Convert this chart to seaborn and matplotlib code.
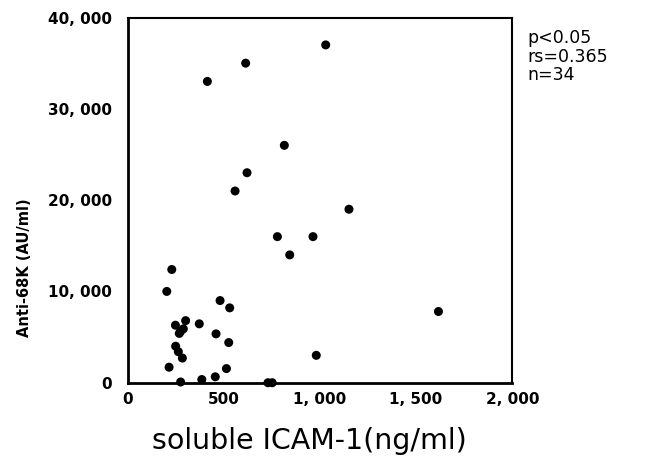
import matplotlib
matplotlib.use("Agg")
import matplotlib.pyplot as plt
import seaborn as sns
import pandas as pd
from matplotlib.ticker import FixedLocator, FuncFormatter

# Data
icam = [1030, 614, 415, 815, 621, 559, 1151, 779, 964, 843,
        230, 204, 481, 531, 1616, 302, 249, 373, 290, 269,
        275, 460, 526, 250, 264, 285, 981, 216, 514, 456,
        386, 276, 730, 752]
anti68k = [37000, 35000, 33000, 26000, 23000, 21000, 19000, 16000, 16000, 14000,
           12400, 10000, 9000, 8200, 7800, 6800, 6300, 6450, 5900, 5400,
           5600, 5350, 4400, 4000, 3400, 2700, 3000, 1700, 1550, 650,
           350, 80, 0, 0]
x_ticks = [0, 500, 1000, 1500, 2000]
y_ticks = [0, 10000, 20000, 30000, 40000]
stats_text = ["p<0.05", "rs=0.365", "n=34"]

df = pd.DataFrame({"icam": icam, "anti": anti68k})

sns.set_style("white")
plt.rcParams["font.family"] = ["DejaVu Sans"]
plt.rcParams["text.color"] = "black"

fig = plt.figure(figsize=(6.49, 4.61), dpi=100)
ax = fig.add_axes([0.1965, 0.1698, 0.5929, 0.7922])

sns.scatterplot(data=df, x="icam", y="anti", ax=ax, color="black",
                edgecolor="none", s=42, clip_on=False, zorder=3)

ax.set_xlim(0, 2000)
ax.set_ylim(0, 40000)
ax.xaxis.set_major_locator(FixedLocator(x_ticks))
ax.yaxis.set_major_locator(FixedLocator(y_ticks))
fmt = FuncFormatter(lambda v, p: f"{int(v):,}".replace(",", ", "))
ax.xaxis.set_major_formatter(fmt)
ax.yaxis.set_major_formatter(fmt)
ax.tick_params(axis="both", length=0, labelsize=11, colors="black")
ax.tick_params(axis="y", pad=11)
ax.tick_params(axis="x", pad=7)
for lab in ax.get_xticklabels() + ax.get_yticklabels():
    lab.set_fontweight("bold")

for side in ["left", "bottom", "top", "right"]:
    ax.spines[side].set_color("black")
    ax.spines[side].set_linewidth(1.5)
ax.spines["left"].set_linewidth(2)
ax.spines["bottom"].set_linewidth(2)

ax.set_xlabel("")
ax.set_ylabel("")
fig.text(0.477, 0.043, "soluble ICAM-1(ng/ml)", ha="center", va="center",
         fontsize=20.5, color="black")
fig.text(0.038, 0.42, "Anti-68K (AU/ml)", ha="center", va="center",
         rotation=90, fontsize=10.5, fontweight="bold", color="black")

fig.text(0.812, 0.937, "\n".join(stats_text), ha="left", va="top",
         fontsize=12.5, linespacing=1.05, color="black")

fig.savefig("out.png", dpi=100)
